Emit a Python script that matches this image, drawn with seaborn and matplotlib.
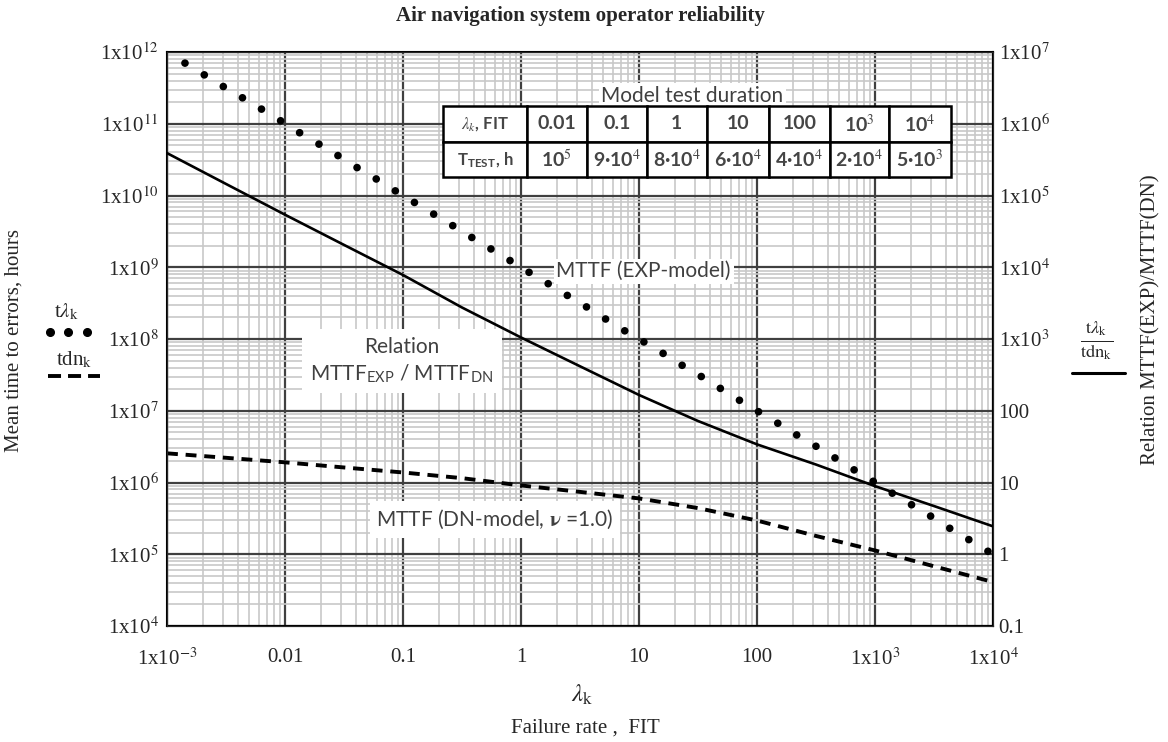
import numpy as np
import matplotlib
matplotlib.use('Agg')
import matplotlib.pyplot as plt
import seaborn as sns
from matplotlib.lines import Line2D
from matplotlib.ticker import LogLocator, NullFormatter, FixedLocator, FixedFormatter

# dotted series: MTTF (EXP-model)
lam_exp = [0.00142, 0.00207, 0.00300, 0.00436, 0.00632, 0.00918, 0.0133, 0.0194, 0.0281, 0.0408,
           0.0593, 0.0861, 0.125, 0.182, 0.264, 0.383, 0.556, 0.807, 1.17, 1.70,
           2.47, 3.59, 5.21, 7.57, 11.0, 16.0, 23.2, 33.7, 48.9, 71.0,
           103, 150, 217, 316, 458, 665, 966, 1400, 2040, 2960,
           4300, 6240, 9060]
mttf_exp = [7.0e11, 4.8e11, 3.3e11, 2.3e11, 1.6e11, 1.1e11, 7.5e10, 5.2e10, 3.6e10, 2.45e10,
            1.7e10, 1.16e10, 8.0e9, 5.5e9, 3.8e9, 2.6e9, 1.8e9, 1.24e9, 8.5e8, 5.9e8,
            4.05e8, 2.8e8, 1.9e8, 1.3e8, 9.1e7, 6.3e7, 4.3e7, 3.0e7, 2.05e7, 1.4e7,
            9.7e6, 6.7e6, 4.6e6, 3.2e6, 2.2e6, 1.5e6, 1.04e6, 7.1e5, 4.9e5, 3.4e5,
            2.3e5, 1.6e5, 1.1e5]

# dashed series (DN-model) and solid relation curve (right axis)
lam_line = [0.001, 0.00316, 0.01, 0.0316, 0.1, 0.316, 1, 3.16, 10, 31.6, 100, 316, 1000, 3160, 10000]
mttf_dn = [2.55e6, 2.21e6, 1.91e6, 1.62e6, 1.38e6, 1.15e6, 9.1e5, 7.4e5, 6.0e5, 4.4e5,
           2.95e5, 1.8e5, 1.13e5, 6.8e4, 4.1e4]
relation = [3.9e5, 1.45e5, 5.4e4, 2.05e4, 7.8e3, 2.75e3, 1.05e3, 417, 166, 72,
            34, 17.8, 8.9, 4.7, 2.45]

# tick labels
x_ticks = [1e-3, 1e-2, 1e-1, 1, 10, 100, 1e3, 1e4]
x_labels = ['1x10$^{-3}$', '0.01', '0.1', '1', '10', '100', '1x10$^{3}$', '1x10$^{4}$']
yl_ticks = [1e4, 1e5, 1e6, 1e7, 1e8, 1e9, 1e10, 1e11, 1e12]
yl_labels = ['1x10$^{%d}$' % p for p in range(4, 13)]
yr_ticks = [0.1, 1, 10, 100, 1e3, 1e4, 1e5, 1e6, 1e7]
yr_labels = ['0.1', '1', '10', '100'] + ['1x10$^{%d}$' % p for p in range(3, 8)]

# model test duration table
tab_lam = ['$\\lambda_k$, FIT', '0.01', '0.1', '1', '10', '100', '10$^{3}$', '10$^{4}$']
tab_t = ['T$_{\\mathregular{TEST}}$, h', '10$^{5}$', '9·10$^{4}$', '8·10$^{4}$', '6·10$^{4}$',
         '4·10$^{4}$', '2·10$^{4}$', '5·10$^{3}$']

sns.set_style('white')
plt.rcParams['font.family'] = ['Liberation Serif', 'DejaVu Serif']
plt.rcParams['mathtext.fontset'] = 'stix'

fig = plt.figure(figsize=(11.68, 7.42), dpi=100)
ax = fig.add_axes([167 / 1168, 1 - 626 / 742, 826 / 1168, 574 / 742])

sns.scatterplot(x=lam_exp, y=mttf_exp, ax=ax, color='black', s=30, edgecolor='none', zorder=3)
sns.lineplot(x=lam_line, y=mttf_dn, ax=ax, color='black', lw=2.8, linestyle=(0, (2.8, 2.0)), zorder=3)

ax.set_xscale('log')
ax.set_yscale('log')
ax.set_xlim(1e-3, 1e4)
ax.set_ylim(1e4, 1e12)
ax.xaxis.set_major_locator(FixedLocator(x_ticks))
ax.xaxis.set_major_formatter(FixedFormatter(x_labels))
ax.yaxis.set_major_locator(FixedLocator(yl_ticks))
ax.yaxis.set_major_formatter(FixedFormatter(yl_labels))
ax.xaxis.set_minor_locator(LogLocator(base=10, subs=np.arange(2, 10), numticks=30))
ax.yaxis.set_minor_locator(LogLocator(base=10, subs=np.arange(2, 10), numticks=30))
ax.xaxis.set_minor_formatter(NullFormatter())
ax.yaxis.set_minor_formatter(NullFormatter())
ax.grid(which='minor', color='#c8c8c8', lw=1.2)
ax.grid(which='major', color='#404040', lw=1.6)
ax.set_axisbelow(True)
ax.tick_params(which='both', length=0, labelsize=15)
ax.tick_params(axis='y', pad=6)
ax.tick_params(axis='x', pad=16)
for s in ax.spines.values():
    s.set_color('black')
    s.set_linewidth(1.5)

ax2 = ax.twinx()
sns.lineplot(x=lam_line, y=relation, ax=ax2, color='black', lw=1.9, zorder=4)
ax2.set_yscale('log')
ax2.set_ylim(0.1, 1e7)
ax2.yaxis.set_major_locator(FixedLocator(yr_ticks))
ax2.yaxis.set_major_formatter(FixedFormatter(yr_labels))
ax2.yaxis.set_minor_formatter(NullFormatter())
ax2.tick_params(which='both', length=0, labelsize=15, pad=4)
ax2.grid(False)
ax2.set_xlim(1e-3, 1e4)

# text labels inside the plot
sans = dict(family='Lato', color='#404040', fontsize=15)
box = dict(facecolor='white', edgecolor='none', pad=2)
ax2.text(0.577, 0.618, 'MTTF (EXP-model)', transform=ax2.transAxes, ha='center', va='center',
         bbox=box, zorder=3, **sans)
ax2.text(0.2845, 0.462, 'Relation\nMTTF$_{\\mathregular{EXP}}$ / MTTF$_{\\mathregular{DN}}$',
         transform=ax2.transAxes, ha='center', va='center', linespacing=1.3,
         bbox=dict(facecolor='white', edgecolor='none', pad=6), zorder=3, **sans)
ax2.text(0.397, 0.185, 'MTTF (DN-model, $\\mathbf{\\nu}$ =1.0)', transform=ax2.transAxes,
         ha='center', va='center', bbox=dict(facecolor='white', edgecolor='none', pad=5), zorder=3, **sans)
ax2.text(0.636, 0.923, 'Model test duration', transform=ax2.transAxes, ha='center', va='center',
         bbox=box, zorder=3, **sans)

col_w = [84, 60, 60, 60, 62, 61, 59, 62]
col_w = [w / sum(col_w) for w in col_w]
tab = ax2.table(cellText=[tab_lam, tab_t], colWidths=col_w, cellLoc='center',
                bbox=[0.334, 0.782, 0.615, 0.124], zorder=5)
tab.auto_set_font_size(False)
tab.set_fontsize(14)
for (r, c), cell in tab.get_celld().items():
    cell.set_edgecolor('black')
    cell.set_linewidth(1.8)
    cell.set_facecolor('white')
    cell.get_text().set_family('Lato')
    cell.get_text().set_fontweight('bold')
    cell.get_text().set_color('#454545')
    if c == 0:
        cell.get_text().set_fontsize(12)

# figure texts
fig.text(580 / 1168, 1 - 16 / 742, 'Air navigation system operator reliability', ha='center',
         va='center', fontsize=15, fontweight='bold')
fig.text(14 / 1168, 1 - 340 / 742, 'Mean time to errors, hours', rotation=90, ha='center',
         va='center', fontsize=15)
fig.text(1151 / 1168, 1 - 320 / 742, 'Relation MTTF(EXP)/MTTF(DN)', rotation=90, ha='center',
         va='center', fontsize=15)
fig.text(582 / 1168, 1 - 695 / 742, '$\\lambda_{\\rm k}$', ha='center', va='center', fontsize=18)
fig.text(585 / 1168, 1 - 728 / 742, 'Failure rate ,  FIT', ha='center', va='center', fontsize=15)

# left legend
fig.text(66 / 1168, 1 - 312 / 742, 't$\\lambda_{\\rm k}$', ha='center', va='center', fontsize=15)
fig.add_artist(Line2D([50 / 1168, 68 / 1168, 87 / 1168], [1 - 332 / 742] * 3, transform=fig.transFigure,
                      marker='o', ls='none', color='black', ms=5.5))
fig.text(74 / 1168, 1 - 360 / 742, 'tdn$_{\\rm k}$', ha='center', va='center', fontsize=15)
fig.add_artist(Line2D([48 / 1168, 100 / 1168], [1 - 376 / 742] * 2, transform=fig.transFigure,
                      color='black', lw=2.8, ls=(0, (3.35, 1.8))))

# right legend
fig.text(1097 / 1168, 1 - 340 / 742, '$\\frac{\\mathrm{t}\\lambda_\\mathrm{k}}{\\mathrm{tdn}_\\mathrm{k}}$',
         ha='center', va='center', fontsize=19)
fig.add_artist(Line2D([1072 / 1168, 1125 / 1168], [1 - 373 / 742] * 2, transform=fig.transFigure,
                      color='black', lw=2.2))

fig.savefig('out.png', dpi=100)
